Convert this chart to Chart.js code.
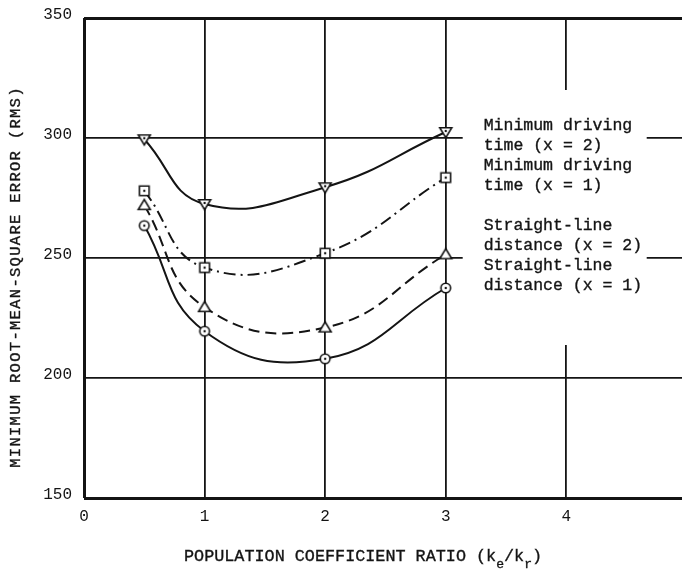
<!DOCTYPE html>
<html>
<head>
<meta charset="utf-8">
<script src="https://cdn.jsdelivr.net/npm/chart.js@4/dist/chart.umd.min.js"></script>
<style>
  html, body { margin: 0; padding: 0; background: #fff; overflow: hidden; }
  #wrap { position: relative; width: 682px; height: 572px; }
</style>
</head>
<body>
<div id="wrap"><canvas id="c" width="682" height="572"></canvas></div>
<script>
// Population coefficient ratio (ke/kr) at which each run was made
const ratios = [0.5, 1, 2, 3];

// Minimum RMS error for each distance measure
const timeX2     = [299.5, 272.5, 279.5, 302.5];
const timeX1     = [278, 246, 252, 283.5];
const straightX2 = [272, 229.5, 221, 251.5];
const straightX1 = [263.5, 219.5, 208, 237.5];

// Axis ticks
const xTicks = [0, 1, 2, 3, 4];
const yTicks = [150, 200, 250, 300, 350];

// Two-line labels written beside the curves
const seriesLabels = [
  ['Minimum driving', 'time (x = 2)'],
  ['Minimum driving', 'time (x = 1)'],
  ['Straight-line', 'distance (x = 2)'],
  ['Straight-line', 'distance (x = 1)']
];

const INK = '#141414';
const MONO = '"Liberation Mono", "DejaVu Sans Mono", monospace';

// Hollow plotting symbols, most with a small centre dot
function makeMarker(shape) {
  const s = 16, c = document.createElement('canvas');
  c.width = s; c.height = s;
  const g = c.getContext('2d');
  const m = s / 2;
  g.lineWidth = 1.6;
  g.strokeStyle = INK;
  g.fillStyle = '#fff';
  g.beginPath();
  if (shape === 'circle') {
    g.arc(m, m, 4.8, 0, Math.PI * 2);
  } else if (shape === 'square') {
    g.rect(m - 4.8, m - 4.8, 9.6, 9.6);
  } else if (shape === 'down') {
    g.moveTo(m - 6, m - 4.3);
    g.lineTo(m + 6, m - 4.3);
    g.lineTo(m, m + 5.6);
    g.closePath();
  } else if (shape === 'up') {
    g.moveTo(m - 6, m + 4.3);
    g.lineTo(m + 6, m + 4.3);
    g.lineTo(m, m - 5.6);
    g.closePath();
  }
  g.fill();
  g.stroke();
  if (shape !== 'up') {
    g.fillStyle = INK;
    g.beginPath();
    g.arc(m, shape === 'down' ? m - 1 : m, 1.2, 0, Math.PI * 2);
    g.fill();
  }
  return c;
}

function series(label, values, marker, dash) {
  return {
    label: label.join(' '),
    data: ratios.map((x, i) => ({ x: x, y: values[i] })),
    borderColor: INK,
    borderWidth: 2,
    borderDash: dash,
    tension: 0.45,
    fill: false,
    pointStyle: makeMarker(marker),
    pointRadius: 6,
    pointHoverRadius: 6
  };
}

// Slightly heavier typewriter-style text
function inkText(g, text, x, y) {
  g.fillText(text, x, y);
  g.strokeText(text, x, y);
}

// White panel behind the curve labels, then the labels and axis titles
const annotations = {
  id: 'annotations',
  beforeDatasetsDraw(chart) {
    const g = chart.ctx;
    const x3 = chart.scales.x.getPixelForValue(3);
    g.save();
    g.fillStyle = '#fff';
    g.fillRect(x3 + 17, 90, 184, 255);
    g.restore();
  },
  afterDraw(chart) {
    const g = chart.ctx;
    const x3 = chart.scales.x.getPixelForValue(3);
    g.save();
    g.fillStyle = INK;
    g.strokeStyle = INK;
    g.lineWidth = 0.35;
    g.textBaseline = 'middle';
    g.textAlign = 'left';
    g.font = '16.5px ' + MONO;
    let y = 126;
    seriesLabels.forEach((lines, i) => {
      if (i === 2) y += 20;
      lines.forEach(t => { inkText(g, t, x3 + 38, y); y += 20; });
    });

    // x-axis title with subscripts
    const mainFont = '16.8px ' + MONO, subFont = '13px ' + MONO;
    const parts = [
      ['POPULATION COEFFICIENT RATIO (k', mainFont, 0],
      ['e', subFont, 7],
      ['/k', mainFont, 0],
      ['r', subFont, 7],
      [')', mainFont, 0]
    ];
    let total = 0;
    parts.forEach(p => { g.font = p[1]; total += g.measureText(p[0]).width; });
    let px = 363 - total / 2;
    g.textBaseline = 'alphabetic';
    parts.forEach(p => {
      g.font = p[1];
      inkText(g, p[0], px, 561 + p[2]);
      px += g.measureText(p[0]).width;
    });

    // y-axis title
    g.translate(16, 277);
    g.rotate(-Math.PI / 2);
    g.textAlign = 'center';
    g.textBaseline = 'middle';
    g.font = '15.5px ' + MONO;
    g.letterSpacing = '1.3px';
    inkText(g, 'MINIMUM ROOT-MEAN-SQUARE ERROR (RMS)', 0, 0);
    g.restore();
  }
};

new Chart(document.getElementById('c'), {
  type: 'line',
  data: {
    datasets: [
      series(seriesLabels[0], timeX2, 'down', []),
      series(seriesLabels[1], timeX1, 'square', [12, 5, 2, 5]),
      series(seriesLabels[2], straightX2, 'up', [11, 6]),
      series(seriesLabels[3], straightX1, 'circle', [])
    ]
  },
  options: {
    responsive: false,
    animation: false,
    events: [],
    layout: { autoPadding: false, padding: { top: 18, right: 0, bottom: 0, left: 0 } },
    plugins: { legend: { display: false }, tooltip: { enabled: false } },
    scales: {
      x: {
        type: 'linear',
        min: 0,
        max: 4.96,
        afterBuildTicks: s => { s.ticks = xTicks.map(v => ({ value: v })); },
        afterFit: s => { s.height = 74; s.paddingLeft = 0; s.paddingRight = 0; },
        border: { display: false },
        grid: {
          color: INK,
          lineWidth: c => (c.tick && c.tick.value === 0 ? 3 : 1.8),
          drawTicks: false
        },
        ticks: {
          padding: 9,
          color: INK,
          font: { family: MONO, size: 16 },
          callback: v => String(v)
        }
      },
      y: {
        min: 150,
        max: 350,
        afterBuildTicks: s => { s.ticks = yTicks.map(v => ({ value: v })); },
        afterFit: s => { s.width = 84; s.paddingTop = 0; s.paddingBottom = 0; },
        border: { display: false },
        grid: {
          color: INK,
          lineWidth: c => (c.tick && (c.tick.value === 150 || c.tick.value === 350) ? 3 : 1.8),
          drawTicks: false
        },
        ticks: {
          padding: 12,
          labelOffset: -3,
          color: INK,
          font: { family: MONO, size: 16 },
          callback: v => String(v)
        }
      }
    }
  },
  plugins: [annotations]
});
</script>
</body>
</html>
